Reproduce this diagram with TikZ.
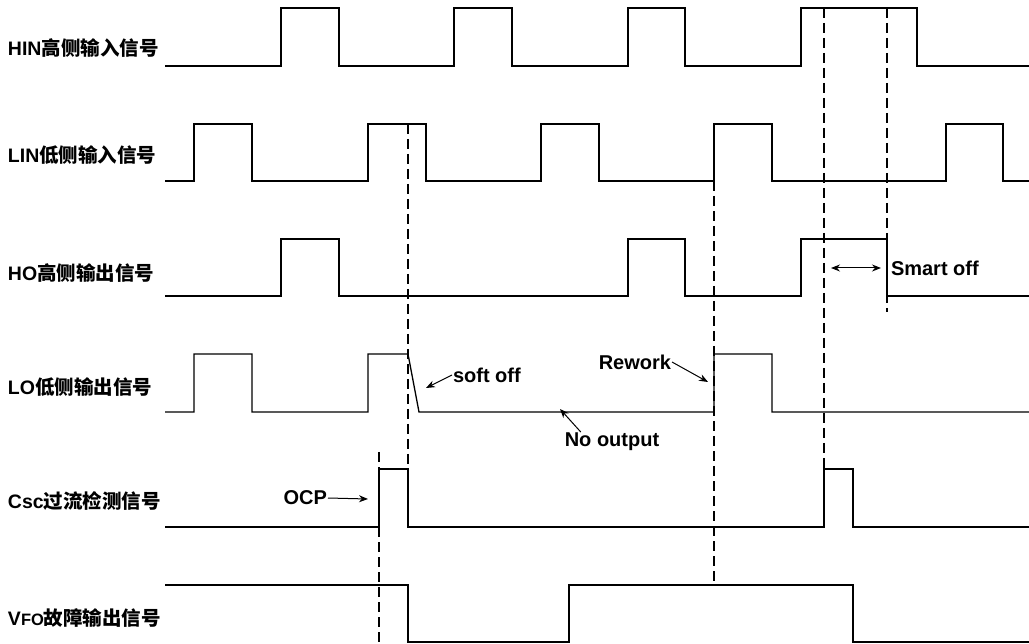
\documentclass[tikz,border=0pt]{standalone}
\usepackage{fontspec}
\setmainfont{Liberation Sans}
\newfontfamily\cjk{Noto Sans CJK SC}
\usetikzlibrary{arrows.meta}

\newcommand{\siglabel}[2]{{\bfseries #1}{\cjk\bfseries #2}}

\tikzset{
  wave/.style={line width=1.3pt},
  guide/.style={line width=1.2pt, dash pattern=on 10pt off 5pt},
  sig/.style={anchor=west, inner sep=0pt, outer sep=0pt, font=\fontsize{19.5pt}{19.5pt}\selectfont},
  note/.style={inner sep=0pt, outer sep=1pt, font=\fontsize{20pt}{20pt}\selectfont\bfseries},
  pointer/.style={line width=1pt, -{Stealth[length=9pt,width=7pt]}}
}

\begin{document}
\begin{tikzpicture}[x=1pt,y=-1pt]
    \useasboundingbox (0,0) rectangle (1029,644);
    % signal names
    \node[sig] (hin) at (8,48)  {\siglabel{HIN}{高侧输入信号}};
    \node[sig] (lin) at (8,155) {\siglabel{LIN}{低侧输入信号}};
    \node[sig] (ho)  at (8,273) {\siglabel{HO}{高侧输出信号}};
    \node[sig] (lo)  at (8,387) {\siglabel{LO}{低侧输出信号}};
    \node[sig] (csc) at (8,501) {\siglabel{Csc}{过流检测信号}};
    \node[sig] (vfo) at (8,618) {\siglabel{V{\fontsize{16.5pt}{16.5pt}\selectfont FO}}{故障输出信号}};
    % waveforms
    \draw[wave] (165,66) -| (281,8) -| (339,66) -| (454,8) -| (512,66) -| (628,8)
      -| (685,66) -| (801,8) -| (917,66) -- (1029,66);
    \draw[wave] (165,181) -| (194,124) -| (252,181) -| (368,124) -| (426,181) -| (541,124)
      -| (599,181) -| (714,124) -| (772,181) -| (946,124) -| (1003,181) -- (1029,181);
    \draw[wave] (165,296) -| (281,239) -| (339,296) -| (628,239) -| (685,296) -| (801,239)
      -| (887,296) -- (1029,296);
    \draw[wave] (165,412) -| (194,354) -| (252,412) -| (368,354) -- (408,354) -- (419,412)
      -| (714,354) -| (772,412) -- (1029,412);
    \draw[wave] (165,527) -| (379,469) -| (408,527) -| (824,469) -| (853,527) -- (1029,527);
    \draw[wave] (165,585) -| (408,642) -| (569,585) -| (853,642) -- (1029,642);
    % guide lines
    \draw[guide] (408,124) -- (408,469);
    \draw[guide] (379,452) -- (379,644);
    \draw[guide] (714,181) -- (714,585);
    \draw[guide] (824,8) -- (824,469);
    \draw[guide] (887,8) -- (887,312);
    % notes
    \node[note, anchor=west] (soft) at (452,375) {soft off};
    \node[note, anchor=east] (rework) at (672,362) {Rework};
    \node[note] (nout) at (612,442) {No output};
    \node[note, anchor=east] (ocp) at (328,498) {OCP};
    \node[note, anchor=west] (smart) at (890,268) {Smart off};
    \coordinate (softend) at (426,388);
    \coordinate (reworkend) at (708,382);
    \coordinate (noutend) at (560,409);
    \coordinate (ocpend) at (368,499);
    \coordinate (sm1) at (831,268);
    \coordinate (sm2) at (881,268);
    \path[pointer]
      (soft.west) edge (softend)
      (rework.east) edge (reworkend)
      ([xshift=17pt]nout.north west) edge (noutend)
      (ocp.east) edge (ocpend);
    \draw[line width=1pt, {Stealth[length=9pt,width=7pt]}-{Stealth[length=9pt,width=7pt]}] (sm1) -- (sm2);
\end{tikzpicture}
\end{document}
